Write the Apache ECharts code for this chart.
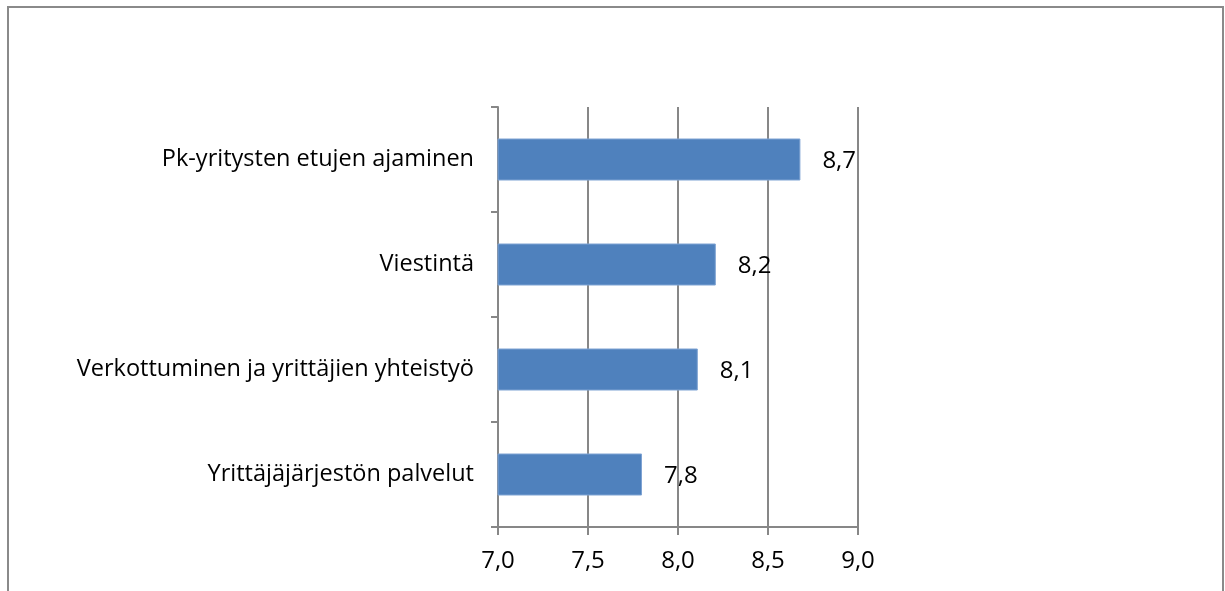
<!DOCTYPE html>
<html lang="fi">
<head>
    <meta charset="UTF-8">
    <title>Yrittäjäjärjestön toiminta</title>
    <style>
        html, body { margin: 0; padding: 0; background: #fff; }
        #main { position: absolute; left: 0; top: 0; width: 1225px; height: 591px; }
        .frame {
            position: absolute; left: 7px; top: 6px; width: 1213px; height: 600px;
            border: 2px solid #8a8a8a; border-bottom: none; pointer-events: none;
        }
    </style>
</head>
<body>
    <div id="main"></div>
    <div class="frame"></div>
    <script src="https://cdn.jsdelivr.net/npm/echarts@6/dist/echarts.min.js"></script>
    <script>
        // kategoriat ylhäältä alas
        var categories = [
            'Pk-yritysten etujen ajaminen',
            'Viestintä',
            'Verkottuminen ja yrittäjien yhteistyö',
            'Yrittäjäjärjestön palvelut'
        ];
        var values = [8.68, 8.21, 8.11, 7.80];
        var axisMin = 7.0, axisMax = 9.0, axisStep = 0.5;

        function fi(v) { return v.toFixed(1).replace('.', ','); }

        var font = 'Open Sans';
        var chart = echarts.init(document.getElementById('main'));
        chart.setOption({
            animation: false,
            grid: { left: 498, right: 367, top: 107, bottom: 64 },
            xAxis: {
                type: 'value',
                min: axisMin, max: axisMax, interval: axisStep,
                axisLine: { show: true, lineStyle: { color: '#878787', width: 2 } },
                axisTick: { show: true, length: 8, lineStyle: { color: '#878787', width: 2 } },
                splitLine: { show: true, lineStyle: { color: '#878787', width: 2 } },
                axisLabel: {
                    color: '#000', fontFamily: font, fontSize: 24, margin: 22,
                    formatter: function (v) { return fi(v); }
                }
            },
            yAxis: {
                type: 'category',
                inverse: true,
                data: categories,
                axisLine: { show: true, lineStyle: { color: '#878787', width: 2 } },
                axisTick: { show: true, length: 7, lineStyle: { color: '#878787', width: 2 } },
                axisLabel: { color: '#000', fontFamily: font, fontSize: 23.5, margin: 24 }
            },
            series: [{
                type: 'bar',
                data: values,
                barWidth: 42,
                itemStyle: { color: '#4f81bd', borderColor: '#7fa3d3', borderWidth: 1 },
                label: {
                    show: true, position: 'right', distance: 22, offset: [0, 2],
                    color: '#000', fontFamily: font, fontSize: 24,
                    formatter: function (p) { return fi(p.value); }
                }
            }]
        });
    </script>
</body>
</html>
